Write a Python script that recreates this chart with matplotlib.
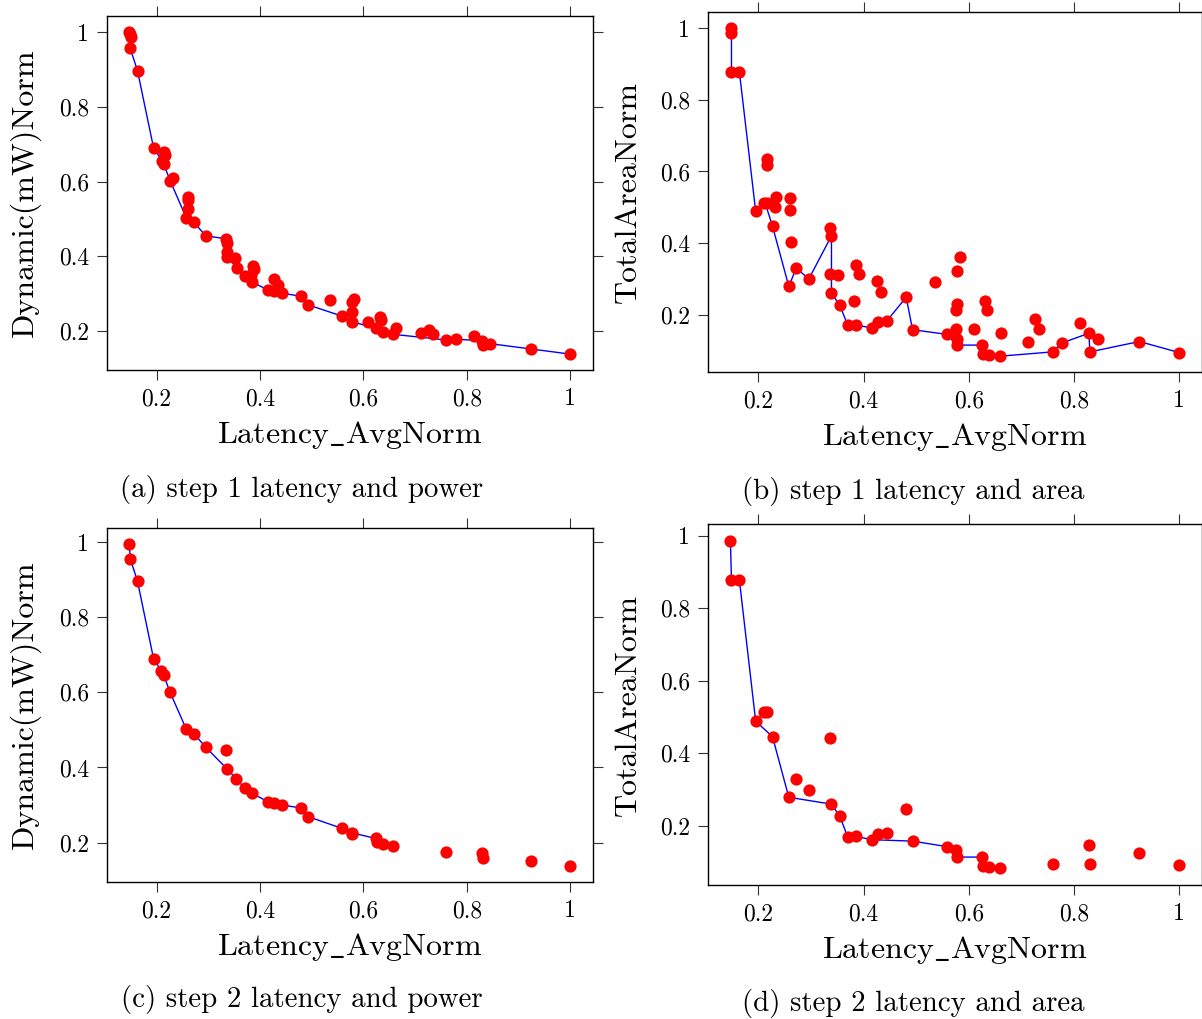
import matplotlib
matplotlib.use("Agg")
import matplotlib.pyplot as plt
from matplotlib.ticker import FuncFormatter

plt.rcParams['font.family'] = 'cmr10'
plt.rcParams['mathtext.fontset'] = 'cm'
plt.rcParams['axes.formatter.use_mathtext'] = True
plt.rcParams['axes.unicode_minus'] = False

# ---- step 1: latency vs power (all explored points) ----
s1_pow_lat = [0.147, 0.148, 0.150, 0.149, 0.163, 0.194, 0.215, 0.217, 0.210, 0.214,
              0.226, 0.232, 0.260, 0.261, 0.261, 0.257, 0.272, 0.295, 0.334, 0.337,
              0.337, 0.337, 0.352, 0.355, 0.370, 0.386, 0.389, 0.382, 0.384, 0.426,
              0.434, 0.416, 0.427, 0.443, 0.480, 0.493, 0.536, 0.582, 0.577, 0.578,
              0.558, 0.577, 0.609, 0.631, 0.634, 0.625, 0.637, 0.662, 0.658, 0.711,
              0.727, 0.734, 0.760, 0.778, 0.813, 0.829, 0.831, 0.845, 0.923, 1.000]
s1_pow = [1.000, 0.995, 0.987, 0.957, 0.897, 0.691, 0.679, 0.671, 0.656, 0.646,
          0.603, 0.609, 0.560, 0.551, 0.526, 0.504, 0.491, 0.455, 0.447, 0.437,
          0.411, 0.397, 0.396, 0.370, 0.346, 0.375, 0.365, 0.350, 0.332, 0.338,
          0.323, 0.309, 0.307, 0.301, 0.293, 0.270, 0.284, 0.286, 0.277, 0.252,
          0.240, 0.225, 0.225, 0.238, 0.229, 0.207, 0.197, 0.207, 0.191, 0.194,
          0.203, 0.192, 0.176, 0.178, 0.186, 0.174, 0.162, 0.166, 0.152, 0.138]
s1_pow_front_lat = [0.150, 0.149, 0.163, 0.194, 0.210, 0.214, 0.226, 0.257, 0.272, 0.295,
                    0.334, 0.337, 0.355, 0.370, 0.384, 0.416, 0.427, 0.443, 0.480, 0.493,
                    0.558, 0.577, 0.625, 0.637, 0.658, 0.760, 0.778, 0.829, 0.831, 0.845,
                    0.923, 1.000]
s1_pow_front = [0.987, 0.957, 0.897, 0.691, 0.656, 0.646, 0.603, 0.504, 0.491, 0.455,
                0.447, 0.397, 0.370, 0.346, 0.332, 0.309, 0.307, 0.301, 0.293, 0.270,
                0.240, 0.225, 0.207, 0.197, 0.191, 0.176, 0.178, 0.174, 0.162, 0.166,
                0.152, 0.138]

# ---- step 1: latency vs area ----
s1_area_lat = [0.149, 0.149, 0.149, 0.164, 0.216, 0.216, 0.195, 0.210, 0.216, 0.233,
               0.231, 0.260, 0.260, 0.227, 0.262, 0.272, 0.258, 0.296, 0.337, 0.339,
               0.337, 0.351, 0.339, 0.355, 0.386, 0.391, 0.382, 0.370, 0.385, 0.426,
               0.434, 0.416, 0.428, 0.444, 0.481, 0.493, 0.536, 0.583, 0.577, 0.578,
               0.576, 0.558, 0.576, 0.577, 0.578, 0.609, 0.631, 0.634, 0.625, 0.627,
               0.638, 0.662, 0.659, 0.712, 0.726, 0.734, 0.759, 0.777, 0.812, 0.828,
               0.830, 0.845, 0.924, 1.000]
s1_area = [1.000, 0.986, 0.879, 0.879, 0.636, 0.619, 0.489, 0.511, 0.513, 0.529,
           0.500, 0.525, 0.493, 0.447, 0.402, 0.330, 0.279, 0.300, 0.443, 0.420,
           0.313, 0.311, 0.260, 0.226, 0.339, 0.313, 0.237, 0.170, 0.171, 0.294,
           0.264, 0.163, 0.180, 0.182, 0.249, 0.158, 0.290, 0.362, 0.321, 0.230,
           0.213, 0.145, 0.160, 0.133, 0.115, 0.160, 0.239, 0.213, 0.115, 0.091,
           0.087, 0.150, 0.084, 0.125, 0.187, 0.159, 0.096, 0.121, 0.177, 0.148,
           0.096, 0.133, 0.125, 0.094]
s1_area_front_lat = [0.149, 0.149, 0.164, 0.195, 0.213, 0.227, 0.258, 0.272, 0.296, 0.339,
                     0.339, 0.355, 0.370, 0.385, 0.416, 0.428, 0.444, 0.481, 0.493, 0.558,
                     0.578, 0.625, 0.627, 0.638, 0.659, 0.759, 0.777, 0.828, 0.830, 0.924,
                     1.000]
s1_area_front = [0.986, 0.879, 0.879, 0.489, 0.512, 0.447, 0.279, 0.330, 0.300, 0.420,
                 0.260, 0.226, 0.170, 0.171, 0.163, 0.180, 0.182, 0.249, 0.158, 0.145,
                 0.115, 0.115, 0.091, 0.087, 0.084, 0.096, 0.121, 0.148, 0.096, 0.125,
                 0.094]

# ---- step 2: latency vs power ----
s2_pow_lat = [0.147, 0.149, 0.163, 0.194, 0.209, 0.214, 0.226, 0.257, 0.272, 0.295,
              0.334, 0.337, 0.354, 0.370, 0.384, 0.416, 0.427, 0.443, 0.480, 0.493,
              0.558, 0.577, 0.578, 0.624, 0.627, 0.637, 0.658, 0.760, 0.829, 0.831,
              0.923, 1.000]
s2_pow = [0.996, 0.956, 0.896, 0.690, 0.657, 0.645, 0.600, 0.503, 0.490, 0.454,
          0.447, 0.395, 0.370, 0.345, 0.332, 0.308, 0.306, 0.300, 0.292, 0.269,
          0.238, 0.226, 0.222, 0.211, 0.201, 0.196, 0.191, 0.174, 0.173, 0.160,
          0.151, 0.137]
s2_pow_front_lat = [0.147, 0.149, 0.163, 0.194, 0.209, 0.214, 0.226, 0.257, 0.272, 0.295,
                    0.337, 0.354, 0.370, 0.384, 0.416, 0.427, 0.443, 0.480, 0.493, 0.558,
                    0.577, 0.624, 0.637, 0.658]
s2_pow_front = [0.996, 0.956, 0.896, 0.690, 0.657, 0.645, 0.600, 0.503, 0.490, 0.454,
                0.395, 0.370, 0.345, 0.332, 0.308, 0.306, 0.300, 0.292, 0.269, 0.238,
                0.226, 0.211, 0.196, 0.191]

# ---- step 2: latency vs area ----
s2_area_lat = [0.147, 0.149, 0.164, 0.195, 0.211, 0.216, 0.227, 0.336, 0.272, 0.296,
               0.258, 0.339, 0.355, 0.481, 0.370, 0.385, 0.416, 0.428, 0.445, 0.493,
               0.558, 0.576, 0.578, 0.625, 0.627, 0.638, 0.659, 0.759, 0.828, 0.830,
               0.924, 1.000]
s2_area = [0.987, 0.879, 0.879, 0.489, 0.513, 0.513, 0.446, 0.443, 0.330, 0.298,
           0.279, 0.260, 0.226, 0.248, 0.169, 0.171, 0.162, 0.179, 0.181, 0.158,
           0.143, 0.134, 0.114, 0.114, 0.090, 0.086, 0.083, 0.096, 0.147, 0.094,
           0.125, 0.092]
s2_area_front_lat = [0.147, 0.149, 0.164, 0.195, 0.227, 0.258, 0.339, 0.355, 0.370, 0.385,
                     0.416, 0.493, 0.558, 0.576, 0.578, 0.625, 0.627, 0.659]
s2_area_front = [0.987, 0.879, 0.879, 0.489, 0.446, 0.279, 0.260, 0.226, 0.169, 0.171,
                 0.162, 0.158, 0.143, 0.134, 0.114, 0.114, 0.090, 0.083]

W, H = 1202, 1019
fig = plt.figure(figsize=(W / 100, H / 100), dpi=100)


def px_axes(left, top, right, bottom):
    return fig.add_axes([left / W, 1 - bottom / H, (right - left) / W, (bottom - top) / H])


panels = [
    (px_axes(107.3, 15.7, 592.7, 370.0), s1_pow_lat, s1_pow, s1_pow_front_lat, s1_pow_front,
     r'Dynamic(mW)Norm', (0.1046, 1.0432), (0.0955, 1.0446)),
    (px_axes(708.3, 12.3, 1201.5, 372.3), s1_area_lat, s1_area, s1_area_front_lat, s1_area_front,
     r'TotalAreaNorm', (0.105, 1.042), (0.039, 1.0447)),
    (px_axes(107.3, 528.3, 592.7, 882.0), s2_pow_lat, s2_pow, s2_pow_front_lat, s2_pow_front,
     r'Dynamic(mW)Norm', (0.1046, 1.0432), (0.095, 1.037)),
    (px_axes(708.3, 524.3, 1201.5, 885.0), s2_area_lat, s2_area, s2_area_front_lat, s2_area_front,
     r'TotalAreaNorm', (0.105, 1.042), (0.037, 1.032)),
]

fmt = FuncFormatter(lambda v, p: '%g' % round(v, 2))
for ax, lx, ly, fx, fy, ylab, xl, yl in panels:
    ax.plot(fx, fy, color='#0000ff', linewidth=1.0, zorder=2)
    ax.plot(lx, ly, linestyle='none', marker='o', markersize=8.8,
            color='#ff0000', markeredgewidth=0, zorder=3)
    ax.set_xlim(*xl)
    ax.set_ylim(*yl)
    ax.set_xticks([0.2, 0.4, 0.6, 0.8, 1.0])
    ax.set_yticks([0.2, 0.4, 0.6, 0.8, 1.0])
    ax.xaxis.set_major_formatter(fmt)
    ax.yaxis.set_major_formatter(fmt)
    ax.tick_params(direction='out', length=7, width=0.8, color='#333333',
                   top=True, right=True, labelsize=17, pad=6)
    for sp in ax.spines.values():
        sp.set_linewidth(1.0)
    ax.set_xlabel(r'$\mathrm{Latency\_AvgNorm}$', fontsize=23, labelpad=6)
    ax.set_ylabel(ylab, fontsize=23, labelpad=13)

captions = [
    (302, 490, '(a) step 1 latency and power'),
    (913, 492, '(b) step 1 latency and area'),
    (302, 1000, '(c) step 2 latency and power'),
    (913, 1004, '(d) step 2 latency and area'),
]
for cx, cy, txt in captions:
    fig.text(cx / W, 1 - cy / H, txt, ha='center', va='center', fontsize=20.8)

fig.savefig('out.png', dpi=100)
